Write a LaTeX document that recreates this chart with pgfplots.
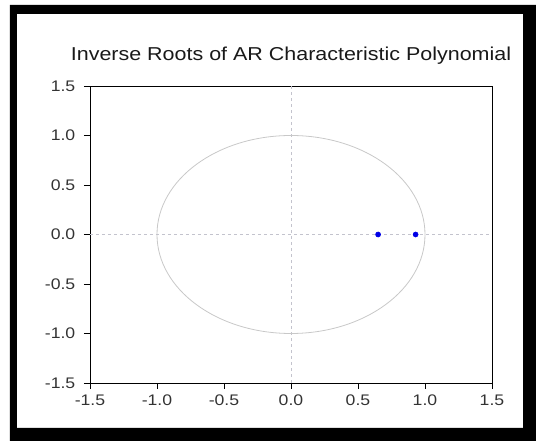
\documentclass[border=0pt]{standalone}
\usepackage{fontspec}
\setmainfont{Liberation Sans}[FakeStretch=1.15]
\usepackage{pgfplots}
\pgfplotsset{compat=1.18}
\definecolor{circgray}{RGB}{200,200,200}
\definecolor{gridgray}{RGB}{195,195,205}
\begin{document}
\begin{tikzpicture}
\useasboundingbox (-67.5pt,-43.5pt) rectangle (334.5pt,287.25pt);
% thick black frame
\fill[black, even odd rule] (-60pt,-43.5pt) rectangle (334.5pt,283.5pt)
    (-54.75pt,-33.75pt) rectangle (324.75pt,276.75pt);
\begin{axis}[
    scale only axis,
    width=301.5pt,
    height=222.75pt,
    xmin=-1.5, xmax=1.5,
    ymin=-1.5, ymax=1.5,
    xtick={-1.5,-1.0,-0.5,0,0.5,1.0,1.5},
    ytick={-1.5,-1.0,-0.5,0,0.5,1.0,1.5},
    tick align=outside,
    tick pos=left,
    major tick length=4.5pt,
    axis line style={line width=0.7pt},
    tick style={black, line width=0.7pt},
    /pgf/number format/assume math mode=true,
    /pgf/number format/fixed,
    /pgf/number format/fixed zerofill,
    /pgf/number format/precision=1,
    tick label style={font=\fontsize{11.5}{13}\selectfont, text=black!80},
    xticklabel style={yshift=-1pt},
    yticklabel style={xshift=-3pt},
    extra x ticks={0},
    extra y ticks={0},
    extra x tick labels={},
    extra y tick labels={},
    extra tick style={grid=major, major grid style={gridgray, dash pattern=on 2.5pt off 2pt, line width=0.5pt}, major tick length=0pt},
    title={Inverse Roots of AR Characteristic Polynomial},
    title style={at={(0.5,1)}, anchor=base, yshift=13pt, font=\fontsize{14}{16}\selectfont, text=black!90},
]
\draw[circgray, line width=0.6pt] (axis cs:0,0) ellipse [x radius=1, y radius=1];
\addplot[only marks, mark=*, mark size=1.9pt, color={rgb,255:red,0;green,0;blue,230}]
    coordinates {(0.65,0) (0.93,0)};
\end{axis}
\end{tikzpicture}
\end{document}
